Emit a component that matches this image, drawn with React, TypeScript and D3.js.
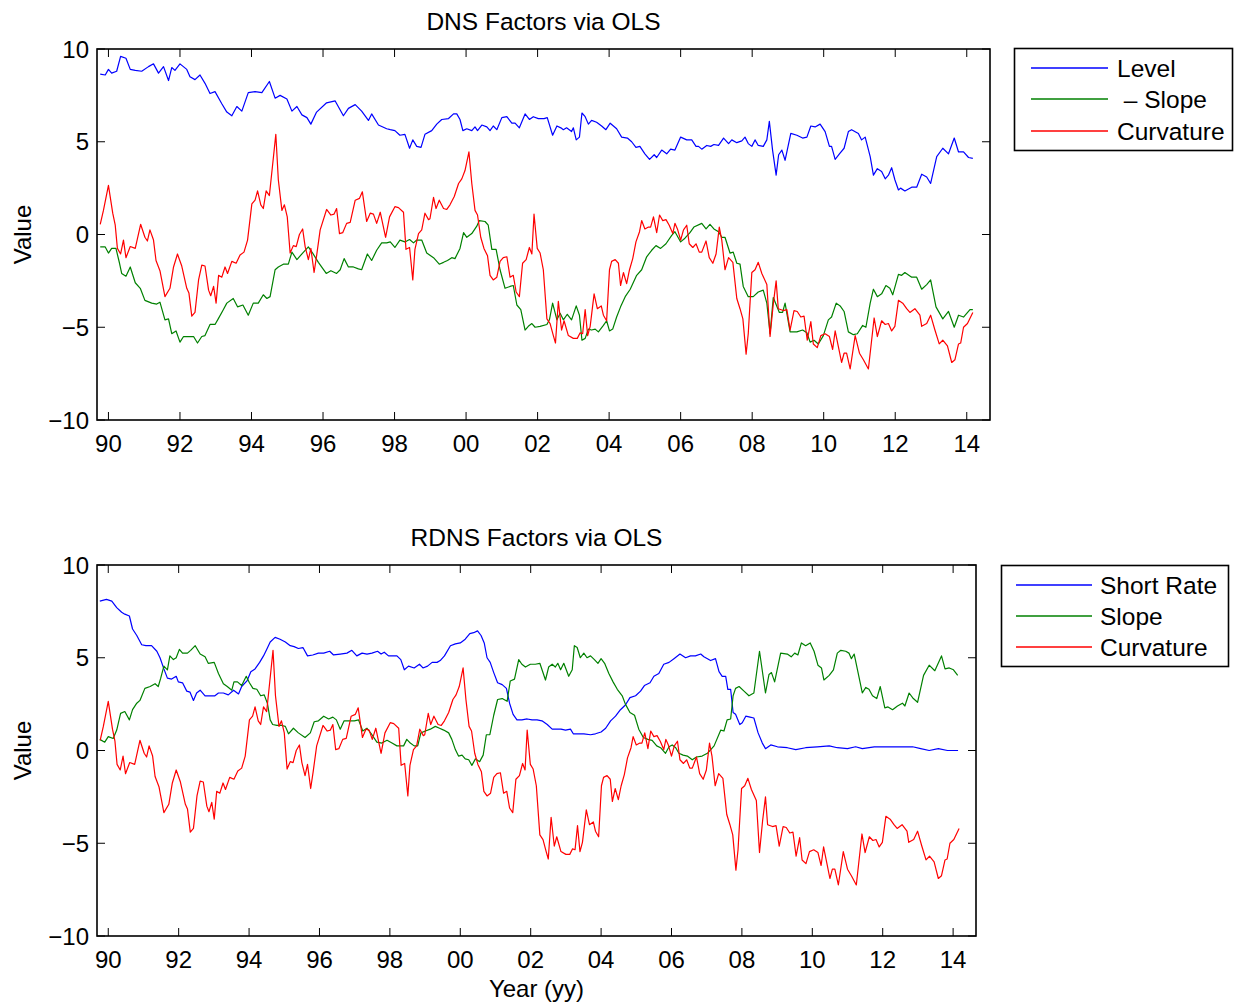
import { useRef, useEffect } from "react";
import * as d3 from "d3";

// [decimal year, value]
const dnsLevel: [number, number][] = [
  [1989.77, 8.65], [1989.91, 8.6], [1990.0, 8.9], [1990.09, 8.7], [1990.23, 8.8], [1990.34, 9.6], [1990.49, 9.5], [1990.61, 8.9],
  [1990.75, 8.85], [1990.93, 8.8], [1991.12, 9.05], [1991.26, 9.2], [1991.4, 8.7], [1991.54, 9.05], [1991.68, 8.3], [1991.77, 9.0],
  [1991.86, 8.85], [1992.0, 9.2], [1992.19, 8.9], [1992.28, 8.5], [1992.42, 8.35], [1992.56, 8.6], [1992.7, 8.15], [1992.84, 7.6],
  [1992.98, 7.7], [1993.17, 7.05], [1993.31, 6.6], [1993.45, 6.4], [1993.59, 6.9], [1993.73, 6.65], [1993.91, 7.65], [1994.1, 7.7],
  [1994.29, 7.65], [1994.5, 8.25], [1994.66, 7.35], [1994.8, 7.5], [1994.99, 7.3], [1995.13, 6.65], [1995.27, 6.9], [1995.41, 6.45],
  [1995.55, 6.3], [1995.66, 5.95], [1995.82, 6.6], [1996.1, 7.1], [1996.34, 7.2], [1996.57, 6.4], [1996.71, 6.8], [1996.9, 7.0],
  [1997.08, 6.65], [1997.27, 6.15], [1997.36, 6.5], [1997.55, 5.9], [1997.78, 5.7], [1997.88, 5.65], [1998.01, 5.6], [1998.15, 5.35],
  [1998.29, 5.4], [1998.42, 4.65], [1998.51, 5.1], [1998.62, 4.75], [1998.74, 4.7], [1998.85, 5.4], [1999.04, 5.6], [1999.18, 5.95],
  [1999.32, 6.2], [1999.51, 6.25], [1999.65, 6.5], [1999.74, 6.5], [1999.83, 6.2], [1999.91, 5.6], [2000.02, 5.7], [2000.16, 5.6],
  [2000.25, 5.8], [2000.32, 5.6], [2000.44, 5.9], [2000.58, 5.8], [2000.67, 5.6], [2000.76, 5.85], [2000.86, 5.65], [2001.0, 6.3],
  [2001.14, 6.35], [2001.28, 6.0], [2001.37, 6.0], [2001.49, 5.75], [2001.65, 6.5], [2001.77, 6.2], [2001.88, 6.35], [2002.02, 6.25],
  [2002.18, 6.25], [2002.27, 6.3], [2002.42, 5.35], [2002.54, 5.85], [2002.65, 5.75], [2002.72, 5.65], [2002.81, 5.75], [2002.95, 5.55],
  [2003.0, 5.75], [2003.08, 5.1], [2003.17, 5.25], [2003.24, 6.55], [2003.33, 6.35], [2003.42, 5.95], [2003.51, 6.15], [2003.65, 6.05],
  [2003.79, 5.85], [2003.91, 5.65], [2004.03, 6.0], [2004.21, 5.7], [2004.35, 5.25], [2004.51, 5.2], [2004.63, 5.0], [2004.75, 4.7],
  [2004.86, 4.75], [2005.0, 4.35], [2005.13, 4.05], [2005.26, 4.3], [2005.33, 4.15], [2005.47, 4.55], [2005.61, 4.35], [2005.72, 4.6],
  [2005.84, 4.55], [2006.0, 5.25], [2006.17, 5.1], [2006.31, 5.1], [2006.43, 4.75], [2006.5, 4.75], [2006.59, 4.6], [2006.73, 4.8],
  [2006.84, 4.75], [2006.93, 4.85], [2007.06, 4.8], [2007.2, 5.2], [2007.34, 4.9], [2007.43, 5.1], [2007.57, 4.95], [2007.71, 5.05],
  [2007.8, 5.25], [2007.89, 4.9], [2007.99, 4.75], [2008.08, 5.1], [2008.17, 4.8], [2008.31, 4.75], [2008.41, 5.1], [2008.48, 6.1],
  [2008.57, 4.55], [2008.67, 3.2], [2008.74, 4.3], [2008.83, 4.55], [2008.92, 4.0], [2009.08, 5.45], [2009.25, 5.35], [2009.41, 5.2],
  [2009.53, 5.25], [2009.64, 5.85], [2009.76, 5.8], [2009.9, 5.95], [2010.04, 5.55], [2010.16, 4.75], [2010.22, 4.75], [2010.32, 4.05],
  [2010.44, 4.35], [2010.57, 4.65], [2010.69, 5.55], [2010.78, 5.65], [2010.97, 5.45], [2011.06, 5.1], [2011.16, 5.25], [2011.3, 4.2],
  [2011.39, 3.2], [2011.5, 3.55], [2011.62, 3.4], [2011.72, 3.0], [2011.81, 3.2], [2011.9, 3.6], [2011.99, 2.95], [2012.09, 2.4],
  [2012.15, 2.5], [2012.27, 2.35], [2012.46, 2.55], [2012.6, 2.55], [2012.74, 3.25], [2012.88, 3.1], [2012.99, 2.75], [2013.16, 4.2],
  [2013.33, 4.65], [2013.49, 4.35], [2013.65, 5.2], [2013.77, 4.45], [2013.91, 4.45], [2014.05, 4.15], [2014.17, 4.1],
];

const dnsNegSlope: [number, number][] = [
  [1989.77, -0.67], [1989.91, -0.67], [1990.0, -1.0], [1990.09, -0.75], [1990.21, -0.75], [1990.31, -1.55], [1990.37, -2.1], [1990.49, -2.25],
  [1990.61, -1.75], [1990.75, -2.6], [1990.89, -2.9], [1991.02, -3.55], [1991.21, -3.7], [1991.35, -3.75], [1991.44, -3.65], [1991.58, -4.6],
  [1991.68, -4.55], [1991.77, -5.35], [1991.89, -5.2], [1992.0, -5.8], [1992.1, -5.5], [1992.28, -5.5], [1992.38, -5.5], [1992.49, -5.85],
  [1992.61, -5.5], [1992.7, -5.45], [1992.84, -4.85], [1992.98, -4.85], [1993.07, -4.55], [1993.2, -4.1], [1993.31, -3.7], [1993.49, -3.45],
  [1993.61, -3.9], [1993.76, -3.8], [1993.91, -4.35], [1994.05, -3.7], [1994.19, -3.7], [1994.33, -3.25], [1994.43, -3.45], [1994.52, -3.35],
  [1994.66, -1.9], [1994.75, -1.75], [1994.89, -1.6], [1995.03, -1.6], [1995.13, -0.95], [1995.27, -1.35], [1995.43, -1.0], [1995.59, -0.67],
  [1995.71, -1.0], [1995.87, -1.5], [1996.09, -2.1], [1996.22, -1.95], [1996.38, -2.1], [1996.48, -1.9], [1996.59, -1.3], [1996.71, -1.75],
  [1996.85, -1.75], [1996.99, -1.85], [1997.08, -1.9], [1997.24, -1.05], [1997.36, -1.4], [1997.5, -0.85], [1997.64, -0.45], [1997.78, -0.45],
  [1997.88, -0.4], [1998.01, -0.7], [1998.15, -0.3], [1998.29, -0.4], [1998.42, -0.27], [1998.53, -0.45], [1998.62, -0.3], [1998.76, -0.3],
  [1998.9, -1.0], [1999.09, -1.25], [1999.25, -1.6], [1999.37, -1.5], [1999.48, -1.4], [1999.6, -1.25], [1999.69, -1.3], [1999.83, -0.75],
  [1999.93, 0.1], [2000.02, -0.15], [2000.16, 0.05], [2000.3, 0.45], [2000.37, 0.75], [2000.53, 0.7], [2000.62, 0.5], [2000.72, -0.8],
  [2000.84, -0.8], [2000.95, -1.9], [2001.09, -2.9], [2001.23, -2.8], [2001.32, -2.75], [2001.42, -3.8], [2001.53, -4.05], [2001.65, -5.15],
  [2001.74, -4.95], [2001.84, -4.8], [2001.93, -5.0], [2002.07, -4.95], [2002.26, -4.85], [2002.33, -4.6], [2002.42, -3.7], [2002.54, -4.6],
  [2002.63, -4.25], [2002.72, -4.6], [2002.83, -4.3], [2002.95, -4.6], [2003.08, -3.85], [2003.17, -4.35], [2003.24, -5.7], [2003.33, -5.6],
  [2003.42, -5.1], [2003.51, -5.15], [2003.61, -5.1], [2003.7, -5.25], [2003.84, -4.9], [2003.93, -4.65], [2004.01, -5.2], [2004.1, -5.1],
  [2004.21, -4.45], [2004.32, -3.9], [2004.45, -3.35], [2004.59, -2.95], [2004.77, -2.2], [2004.91, -1.9], [2005.05, -1.2], [2005.19, -0.85],
  [2005.31, -0.6], [2005.44, -0.75], [2005.59, -0.5], [2005.75, -0.05], [2005.84, 0.15], [2006.0, -0.4], [2006.12, -0.2], [2006.26, 0.1],
  [2006.37, 0.4], [2006.59, 0.6], [2006.71, 0.3], [2006.82, 0.55], [2006.93, 0.3], [2007.06, 0.15], [2007.15, -0.15], [2007.24, -0.15],
  [2007.38, -1.0], [2007.47, -0.95], [2007.57, -1.55], [2007.66, -1.6], [2007.75, -2.8], [2007.89, -3.35], [2008.03, -3.35], [2008.17, -3.1],
  [2008.31, -3.0], [2008.41, -3.7], [2008.5, -5.35], [2008.59, -3.4], [2008.76, -4.2], [2008.85, -4.2], [2008.92, -3.7], [2009.06, -5.25],
  [2009.25, -5.25], [2009.41, -5.15], [2009.53, -5.3], [2009.62, -5.8], [2009.73, -5.7], [2009.85, -5.9], [2009.99, -5.45], [2010.13, -4.6],
  [2010.22, -4.45], [2010.35, -3.7], [2010.46, -3.85], [2010.57, -4.15], [2010.69, -5.25], [2010.83, -5.4], [2010.94, -5.35], [2011.09, -4.9],
  [2011.18, -5.0], [2011.3, -3.7], [2011.39, -2.95], [2011.5, -3.35], [2011.62, -3.2], [2011.74, -2.75], [2011.85, -2.9], [2011.93, -3.25],
  [2012.09, -2.15], [2012.18, -2.2], [2012.27, -2.05], [2012.46, -2.3], [2012.6, -2.3], [2012.74, -2.95], [2012.88, -2.7], [2012.99, -2.45],
  [2013.14, -3.9], [2013.33, -4.55], [2013.49, -4.15], [2013.65, -5.0], [2013.77, -4.35], [2013.91, -4.45], [2014.09, -4.05], [2014.17, -4.05],
];

// the curvature factor is the same line in both panels
const curvature: [number, number][] = [
  [1989.77, 0.55], [1989.86, 1.3], [1990.0, 2.65], [1990.12, 1.15], [1990.19, 0.5], [1990.25, -0.75], [1990.34, -1.05], [1990.42, -0.3],
  [1990.49, -1.25], [1990.61, -0.65], [1990.75, -0.75], [1990.9, 0.55], [1991.02, -0.15], [1991.09, -0.35], [1991.16, 0.25], [1991.26, -0.3],
  [1991.33, -1.4], [1991.44, -1.95], [1991.58, -3.35], [1991.72, -2.9], [1991.82, -1.75], [1991.93, -1.05], [1992.05, -1.7], [1992.19, -2.9],
  [1992.25, -3.15], [1992.33, -4.4], [1992.42, -4.2], [1992.52, -2.45], [1992.61, -1.65], [1992.7, -1.7], [1992.8, -3.0], [1992.86, -3.3],
  [1992.94, -2.8], [1993.01, -3.7], [1993.08, -2.2], [1993.17, -2.3], [1993.26, -1.75], [1993.33, -2.1], [1993.45, -1.45], [1993.57, -1.55],
  [1993.68, -1.1], [1993.79, -0.95], [1993.89, -0.3], [1994.01, 1.65], [1994.1, 1.85], [1994.17, 2.35], [1994.26, 1.6], [1994.33, 1.4],
  [1994.41, 2.35], [1994.5, 2.1], [1994.59, 3.75], [1994.68, 5.4], [1994.75, 2.95], [1994.85, 1.3], [1994.92, 1.6], [1995.0, 0.95],
  [1995.08, -1.0], [1995.17, -0.6], [1995.25, -0.65], [1995.34, 0.0], [1995.43, 0.3], [1995.5, -0.65], [1995.59, -1.35], [1995.66, -0.75],
  [1995.75, -2.05], [1995.82, -1.15], [1995.92, 0.25], [1996.1, 1.35], [1996.22, 1.05], [1996.31, 1.1], [1996.38, 1.4], [1996.46, 0.05],
  [1996.55, 0.1], [1996.66, 0.6], [1996.76, 0.65], [1996.9, 1.85], [1997.02, 1.95], [1997.1, 2.3], [1997.22, 0.7], [1997.32, 1.15],
  [1997.41, 1.1], [1997.5, 0.6], [1997.6, 1.2], [1997.75, -0.15], [1997.86, 0.95], [1998.01, 1.5], [1998.11, 1.45], [1998.25, 1.2],
  [1998.32, -0.8], [1998.42, -0.7], [1998.51, -2.45], [1998.57, -0.8], [1998.67, 0.05], [1998.76, 0.25], [1998.85, 1.15], [1998.95, 0.8],
  [1998.99, 0.85], [1999.09, 2.0], [1999.16, 1.4], [1999.25, 1.85], [1999.37, 1.4], [1999.46, 1.35], [1999.55, 1.6], [1999.67, 2.05],
  [1999.79, 2.75], [1999.88, 3.0], [1999.97, 3.45], [2000.08, 4.45], [2000.16, 2.75], [2000.25, 1.3], [2000.32, 1.05], [2000.41, -0.15],
  [2000.5, -0.75], [2000.6, -1.15], [2000.67, -2.2], [2000.76, -2.45], [2000.86, -2.3], [2000.95, -1.45], [2001.04, -1.25], [2001.14, -1.2],
  [2001.23, -2.3], [2001.32, -2.2], [2001.4, -3.1], [2001.49, -3.35], [2001.58, -1.55], [2001.68, -1.35], [2001.77, -0.7], [2001.84, -1.05],
  [2001.9, 1.1], [2001.99, -0.75], [2002.07, -1.0], [2002.16, -1.9], [2002.26, -4.55], [2002.35, -4.8], [2002.44, -5.45], [2002.5, -5.85],
  [2002.58, -3.6], [2002.67, -5.15], [2002.74, -4.65], [2002.86, -5.45], [2003.0, -5.6], [2003.11, -5.6], [2003.19, -5.3], [2003.26, -5.35],
  [2003.33, -4.05], [2003.4, -5.45], [2003.47, -4.95], [2003.58, -3.2], [2003.67, -4.0], [2003.78, -3.85], [2003.84, -4.35], [2003.93, -4.65],
  [2004.01, -1.9], [2004.07, -1.45], [2004.17, -1.35], [2004.26, -1.55], [2004.32, -2.75], [2004.4, -2.05], [2004.49, -2.65], [2004.57, -1.9],
  [2004.66, -1.3], [2004.75, -0.4], [2004.85, 0.15], [2004.91, 0.75], [2005.0, 0.3], [2005.1, 0.4], [2005.16, 0.4], [2005.24, 0.95],
  [2005.33, 0.1], [2005.41, 1.05], [2005.5, 0.75], [2005.59, 0.8], [2005.68, 0.5], [2005.78, 0.05], [2005.84, 0.6], [2005.91, 0.3],
  [2006.0, -0.3], [2006.08, 0.25], [2006.17, 0.5], [2006.24, -0.5], [2006.34, -0.7], [2006.43, -0.5], [2006.52, -0.95], [2006.59, -0.95],
  [2006.71, -0.35], [2006.8, -1.25], [2006.9, -1.55], [2006.99, -1.05], [2007.08, 0.4], [2007.15, -0.3], [2007.24, -1.9], [2007.34, -1.25],
  [2007.46, -1.5], [2007.57, -3.45], [2007.66, -4.0], [2007.74, -4.55], [2007.83, -6.45], [2007.89, -5.35], [2007.99, -2.05], [2008.08, -1.9],
  [2008.17, -1.5], [2008.27, -2.1], [2008.41, -2.7], [2008.5, -5.5], [2008.59, -3.75], [2008.67, -2.5], [2008.73, -4.0], [2008.87, -4.1],
  [2008.97, -4.05], [2009.06, -5.15], [2009.17, -4.1], [2009.26, -4.15], [2009.36, -4.45], [2009.45, -4.4], [2009.54, -5.7], [2009.64, -4.7],
  [2009.71, -5.9], [2009.82, -6.1], [2009.92, -5.45], [2010.04, -5.35], [2010.16, -5.5], [2010.25, -6.2], [2010.32, -5.2], [2010.41, -6.05],
  [2010.5, -6.9], [2010.57, -6.4], [2010.64, -6.4], [2010.74, -7.25], [2010.88, -5.45], [2011.0, -6.4], [2011.11, -6.75], [2011.25, -7.25],
  [2011.41, -4.5], [2011.5, -5.5], [2011.62, -4.65], [2011.72, -4.85], [2011.81, -4.8], [2011.9, -5.2], [2011.99, -4.95], [2012.09, -3.55],
  [2012.21, -3.7], [2012.32, -4.0], [2012.41, -4.2], [2012.55, -4.0], [2012.69, -4.35], [2012.74, -4.95], [2012.88, -4.8], [2012.99, -4.35],
  [2013.11, -5.15], [2013.23, -5.9], [2013.33, -5.7], [2013.46, -6.0], [2013.58, -6.9], [2013.67, -6.75], [2013.77, -5.9], [2013.83, -5.85],
  [2013.91, -5.0], [2014.02, -4.8], [2014.17, -4.2],
];

const rdnsShortRate: [number, number][] = [
  [1989.76, 8.05], [1989.95, 8.15], [1990.1, 8.05], [1990.24, 7.7], [1990.38, 7.45], [1990.47, 7.35], [1990.6, 7.25], [1990.69, 6.55],
  [1990.81, 6.2], [1990.95, 5.7], [1991.07, 5.65], [1991.23, 5.65], [1991.38, 5.35], [1991.47, 5.0], [1991.58, 4.4], [1991.68, 3.9],
  [1991.8, 3.85], [1991.93, 4.0], [1991.99, 3.7], [1992.11, 3.65], [1992.23, 3.2], [1992.32, 3.15], [1992.42, 2.7], [1992.51, 3.1],
  [1992.61, 3.25], [1992.75, 2.95], [1992.89, 2.95], [1993.03, 2.95], [1993.13, 3.1], [1993.27, 3.1], [1993.41, 3.0], [1993.56, 3.25],
  [1993.7, 3.05], [1993.79, 3.45], [1993.94, 3.75], [1994.05, 4.25], [1994.17, 4.4], [1994.3, 4.75], [1994.41, 5.1], [1994.5, 5.45],
  [1994.6, 5.85], [1994.74, 6.1], [1994.88, 6.0], [1995.03, 5.85], [1995.17, 5.65], [1995.28, 5.6], [1995.4, 5.5], [1995.53, 5.55],
  [1995.66, 5.1], [1995.81, 5.15], [1995.97, 5.25], [1996.12, 5.25], [1996.29, 5.35], [1996.4, 5.15], [1996.59, 5.2], [1996.78, 5.25],
  [1996.92, 5.4], [1997.06, 5.1], [1997.21, 5.25], [1997.35, 5.2], [1997.49, 5.25], [1997.65, 5.35], [1997.75, 5.2], [1997.84, 5.3],
  [1997.96, 5.1], [1998.2, 5.1], [1998.31, 4.9], [1998.41, 4.35], [1998.53, 4.55], [1998.69, 4.45], [1998.84, 4.65], [1998.94, 4.45],
  [1999.07, 4.55], [1999.2, 4.75], [1999.34, 4.75], [1999.43, 4.85], [1999.55, 5.1], [1999.72, 5.65], [1999.86, 5.75], [2000.0, 5.8],
  [2000.14, 6.0], [2000.27, 6.3], [2000.38, 6.35], [2000.49, 6.45], [2000.59, 6.2], [2000.68, 5.8], [2000.76, 5.0], [2000.85, 4.75],
  [2000.95, 4.2], [2001.06, 3.65], [2001.19, 3.55], [2001.31, 3.35], [2001.4, 2.55], [2001.5, 1.95], [2001.61, 1.65], [2001.75, 1.65],
  [2001.9, 1.7], [2002.04, 1.65], [2002.18, 1.65], [2002.32, 1.6], [2002.47, 1.4], [2002.61, 1.15], [2002.75, 1.15], [2002.86, 1.15],
  [2002.99, 1.1], [2003.13, 1.15], [2003.21, 0.9], [2003.37, 0.9], [2003.51, 0.9], [2003.7, 0.85], [2003.84, 0.9], [2004.0, 1.0],
  [2004.13, 1.2], [2004.27, 1.6], [2004.41, 1.85], [2004.55, 2.2], [2004.69, 2.45], [2004.82, 2.85], [2004.98, 2.95], [2005.12, 3.2],
  [2005.23, 3.5], [2005.39, 3.65], [2005.5, 4.0], [2005.64, 4.15], [2005.78, 4.65], [2005.93, 4.75], [2006.07, 4.95], [2006.24, 5.2],
  [2006.4, 5.0], [2006.54, 5.1], [2006.68, 5.1], [2006.83, 5.2], [2006.92, 5.05], [2007.11, 4.85], [2007.25, 4.95], [2007.35, 4.25],
  [2007.44, 4.0], [2007.54, 4.0], [2007.6, 3.3], [2007.68, 3.3], [2007.75, 2.05], [2007.82, 1.95], [2007.94, 1.4], [2008.01, 1.5],
  [2008.11, 1.85], [2008.23, 1.8], [2008.34, 1.75], [2008.46, 0.95], [2008.58, 0.4], [2008.67, 0.1], [2008.82, 0.3], [2009.01, 0.2],
  [2009.29, 0.15], [2009.53, 0.05], [2009.81, 0.15], [2010.14, 0.2], [2010.48, 0.25], [2010.71, 0.15], [2011.0, 0.1], [2011.23, 0.2],
  [2011.42, 0.1], [2011.76, 0.2], [2012.14, 0.2], [2012.51, 0.2], [2012.85, 0.2], [2013.08, 0.1], [2013.32, 0.0], [2013.58, 0.1],
  [2013.84, 0.0], [2014.14, 0.0],
];

const rdnsSlope: [number, number][] = [
  [1989.76, 0.6], [1989.9, 0.45], [1990.0, 0.75], [1990.14, 0.65], [1990.24, 1.1], [1990.35, 2.0], [1990.47, 2.1], [1990.6, 1.65],
  [1990.69, 2.2], [1990.81, 2.55], [1990.9, 2.7], [1991.04, 3.35], [1991.19, 3.45], [1991.33, 3.6], [1991.42, 3.45], [1991.49, 3.9],
  [1991.58, 4.55], [1991.68, 4.35], [1991.75, 5.1], [1991.85, 4.9], [1991.93, 5.0], [1992.02, 5.45], [1992.11, 5.25], [1992.25, 5.25],
  [1992.34, 5.4], [1992.47, 5.65], [1992.61, 5.2], [1992.75, 5.05], [1992.84, 4.7], [1993.01, 4.75], [1993.13, 4.15], [1993.27, 3.6],
  [1993.38, 3.45], [1993.51, 3.25], [1993.57, 3.7], [1993.67, 3.7], [1993.79, 3.5], [1993.92, 4.0], [1994.01, 3.65], [1994.11, 3.35],
  [1994.22, 3.3], [1994.33, 2.95], [1994.43, 3.0], [1994.52, 2.55], [1994.6, 1.65], [1994.67, 1.4], [1994.79, 1.35], [1994.93, 1.35],
  [1995.03, 1.3], [1995.12, 0.9], [1995.26, 1.2], [1995.4, 0.95], [1995.59, 0.7], [1995.74, 0.95], [1995.85, 1.55], [1995.97, 1.6],
  [1996.12, 1.85], [1996.26, 1.7], [1996.38, 1.8], [1996.48, 1.65], [1996.59, 1.15], [1996.7, 1.6], [1996.85, 1.6], [1996.99, 1.6],
  [1997.11, 1.65], [1997.23, 1.05], [1997.35, 1.2], [1997.49, 0.85], [1997.63, 0.45], [1997.77, 0.4], [1997.92, 0.55], [1998.06, 0.4],
  [1998.2, 0.25], [1998.29, 0.25], [1998.39, 0.25], [1998.48, 0.6], [1998.58, 0.4], [1998.69, 0.25], [1998.79, 0.25], [1998.88, 0.95],
  [1999.01, 1.05], [1999.15, 1.15], [1999.29, 1.3], [1999.41, 1.2], [1999.53, 1.1], [1999.67, 0.95], [1999.76, 0.6], [1999.86, 0.05],
  [1999.95, -0.3], [2000.05, -0.25], [2000.14, -0.45], [2000.24, -0.5], [2000.33, -0.8], [2000.43, -0.45], [2000.55, -0.6], [2000.65, -0.25],
  [2000.74, 0.85], [2000.84, 0.85], [2000.95, 1.9], [2001.06, 2.75], [2001.19, 2.8], [2001.33, 2.65], [2001.42, 3.75], [2001.54, 3.85],
  [2001.66, 4.9], [2001.75, 4.65], [2001.85, 4.5], [2001.99, 4.65], [2002.13, 4.65], [2002.26, 4.7], [2002.42, 3.8], [2002.51, 4.5],
  [2002.61, 4.65], [2002.7, 4.5], [2002.77, 4.7], [2002.85, 4.35], [2002.94, 4.7], [2003.08, 4.0], [2003.18, 4.35], [2003.24, 5.65],
  [2003.32, 5.55], [2003.41, 5.0], [2003.51, 5.25], [2003.6, 5.0], [2003.7, 5.1], [2003.81, 4.9], [2003.91, 4.7], [2004.0, 4.95],
  [2004.1, 4.7], [2004.22, 4.15], [2004.34, 3.7], [2004.46, 3.3], [2004.6, 2.95], [2004.69, 2.5], [2004.82, 2.05], [2004.95, 1.9],
  [2005.07, 1.15], [2005.2, 0.7], [2005.33, 0.6], [2005.45, 0.55], [2005.58, 0.25], [2005.69, 0.15], [2005.83, -0.15], [2005.93, 0.2],
  [2006.02, 0.3], [2006.12, 0.15], [2006.21, -0.15], [2006.33, -0.25], [2006.45, -0.3], [2006.59, -0.5], [2006.71, -0.35], [2006.87, -0.3],
  [2007.02, -0.15], [2007.21, 0.25], [2007.4, 1.1], [2007.49, 1.05], [2007.58, 1.65], [2007.68, 1.7], [2007.75, 2.95], [2007.82, 3.35],
  [2007.92, 3.45], [2008.06, 3.2], [2008.2, 2.95], [2008.34, 3.1], [2008.5, 5.35], [2008.67, 3.1], [2008.77, 4.1], [2008.84, 4.2],
  [2008.93, 3.7], [2009.1, 5.25], [2009.29, 5.2], [2009.4, 5.05], [2009.5, 5.25], [2009.59, 5.15], [2009.69, 5.8], [2009.81, 5.65],
  [2009.94, 5.8], [2010.05, 5.35], [2010.16, 4.6], [2010.26, 4.45], [2010.33, 3.8], [2010.48, 4.05], [2010.6, 4.35], [2010.71, 5.25],
  [2010.81, 5.4], [2010.95, 5.35], [2011.04, 5.25], [2011.11, 4.95], [2011.19, 5.2], [2011.3, 4.2], [2011.42, 3.1], [2011.52, 3.4],
  [2011.61, 3.3], [2011.71, 2.95], [2011.83, 2.8], [2011.93, 3.45], [2012.06, 2.3], [2012.15, 2.35], [2012.28, 2.2], [2012.42, 2.4],
  [2012.56, 2.55], [2012.63, 2.4], [2012.75, 3.1], [2012.87, 2.8], [2012.99, 2.6], [2013.16, 4.05], [2013.32, 4.6], [2013.48, 4.3],
  [2013.67, 5.1], [2013.77, 4.4], [2013.89, 4.45], [2014.01, 4.35], [2014.13, 4.05],
];

const xTickYears = [1990, 1992, 1994, 1996, 1998, 2000, 2002, 2004, 2006, 2008, 2010, 2012, 2014];
const xTickLabels = ["90", "92", "94", "96", "98", "00", "02", "04", "06", "08", "10", "12", "14"];
const yTickValues = [-10, -5, 0, 5, 10];
const yTickLabels = ["\u221210", "\u22125", "0", "5", "10"];
const xDomain: [number, number] = [1989.68, 2014.65];

const FONT = "'Liberation Sans', Arial, Helvetica, sans-serif";

type Series = { name: string; data: [number, number][]; color: string };
type Panel = {
  title: string;
  left: number; right: number; top: number; bottom: number;
  series: Series[];
  legend: { x: number; y: number; w: number; h: number; line1: number; line2: number; textX: number; rows: number[] };
  xLabel?: string;
};

const panels: Panel[] = [
  {
    title: "DNS Factors via OLS",
    left: 97, right: 990, top: 49, bottom: 420,
    series: [
      { name: "Level", data: dnsLevel, color: "#0000ff" },
      { name: " \u2013 Slope", data: dnsNegSlope, color: "#008000" },
      { name: "Curvature", data: curvature, color: "#ff0000" },
    ],
    legend: { x: 1014.5, y: 48.5, w: 218, h: 102, line1: 1031, line2: 1108, textX: 1117, rows: [68, 99, 131] },
  },
  {
    title: "RDNS Factors via OLS",
    left: 97, right: 976, top: 565, bottom: 936,
    series: [
      { name: "Short Rate", data: rdnsShortRate, color: "#0000ff" },
      { name: "Slope", data: rdnsSlope, color: "#008000" },
      { name: "Curvature", data: curvature, color: "#ff0000" },
    ],
    legend: { x: 1001.5, y: 565.5, w: 227, h: 101, line1: 1016, line2: 1092, textX: 1100, rows: [585, 616, 647] },
    xLabel: "Year (yy)",
  },
];

export default function App() {
  const svgRef = useRef<SVGSVGElement>(null);

  useEffect(() => {
    if (!svgRef.current) return;
    const svg = d3.select(svgRef.current);
    svg.selectAll("*").remove();

    panels.forEach((p) => {
      const x = d3.scaleLinear().domain(xDomain).range([p.left, p.right]);
      const y = d3.scaleLinear().domain([-10, 10]).range([p.bottom, p.top]);
      const g = svg.append("g");

      const line = d3
        .line<[number, number]>()
        .x((d) => x(d[0]))
        .y((d) => y(d[1]));

      // series
      p.series.forEach((s) => {
        g.append("path")
          .attr("d", line(s.data))
          .attr("fill", "none")
          .attr("stroke", s.color)
          .attr("stroke-width", 1.2)
          .attr("stroke-linejoin", "round");
      });

      // ticks (inward, all four sides)
      const tl = 8;
      xTickYears.forEach((yr) => {
        const xx = x(yr);
        g.append("line").attr("x1", xx).attr("x2", xx).attr("y1", p.bottom).attr("y2", p.bottom - tl).attr("stroke", "#000").attr("stroke-width", 1);
        g.append("line").attr("x1", xx).attr("x2", xx).attr("y1", p.top).attr("y2", p.top + tl).attr("stroke", "#000").attr("stroke-width", 1);
      });
      yTickValues.forEach((v) => {
        const yy = y(v);
        g.append("line").attr("x1", p.left).attr("x2", p.left + tl).attr("y1", yy).attr("y2", yy).attr("stroke", "#000").attr("stroke-width", 1);
        g.append("line").attr("x1", p.right).attr("x2", p.right - tl).attr("y1", yy).attr("y2", yy).attr("stroke", "#000").attr("stroke-width", 1);
      });

      // frame
      g.append("rect")
        .attr("x", p.left)
        .attr("y", p.top)
        .attr("width", p.right - p.left)
        .attr("height", p.bottom - p.top)
        .attr("fill", "none")
        .attr("stroke", "#000")
        .attr("stroke-width", 1.6);

      // tick labels
      xTickYears.forEach((yr, i) => {
        g.append("text")
          .attr("x", x(yr))
          .attr("y", p.bottom + 32)
          .attr("text-anchor", "middle")
          .attr("font-family", FONT)
          .attr("font-size", 24)
          .text(xTickLabels[i]);
      });
      yTickValues.forEach((v, i) => {
        g.append("text")
          .attr("x", p.left - 8)
          .attr("y", y(v) + 8.5)
          .attr("text-anchor", "end")
          .attr("font-family", FONT)
          .attr("font-size", 24)
          .text(yTickLabels[i]);
      });

      // title and y label
      g.append("text")
        .attr("x", (p.left + p.right) / 2)
        .attr("y", p.top - 19)
        .attr("text-anchor", "middle")
        .attr("font-family", FONT)
        .attr("font-size", 24.5)
        .text(p.title);

      g.append("text")
        .attr("transform", `translate(31,${(p.top + p.bottom) / 2}) rotate(-90)`)
        .attr("text-anchor", "middle")
        .attr("font-family", FONT)
        .attr("font-size", 24)
        .text("Value");

      if (p.xLabel) {
        g.append("text")
          .attr("x", (p.left + p.right) / 2)
          .attr("y", p.bottom + 61)
          .attr("text-anchor", "middle")
          .attr("font-family", FONT)
          .attr("font-size", 24)
          .text(p.xLabel);
      }

      // legend
      const lg = p.legend;
      g.append("rect")
        .attr("x", lg.x)
        .attr("y", lg.y)
        .attr("width", lg.w)
        .attr("height", lg.h)
        .attr("fill", "#fff")
        .attr("stroke", "#000")
        .attr("stroke-width", 1.6);
      p.series.forEach((s, i) => {
        const ry = lg.rows[i];
        g.append("line")
          .attr("x1", lg.line1)
          .attr("x2", lg.line2)
          .attr("y1", ry)
          .attr("y2", ry)
          .attr("stroke", s.color)
          .attr("stroke-width", 1.5);
        g.append("text")
          .attr("x", lg.textX)
          .attr("y", ry + 8.5)
          .attr("font-family", FONT)
          .attr("font-size", 24.5)
          .attr("xml:space", "preserve")
          .style("white-space", "pre")
          .text(s.name);
      });
    });
  }, []);

  return (
    <div style={{ position: "absolute", left: 0, top: 0, background: "#fff" }}>
      <svg ref={svgRef} width={1236} height={1005} style={{ display: "block" }} />
    </div>
  );
}
